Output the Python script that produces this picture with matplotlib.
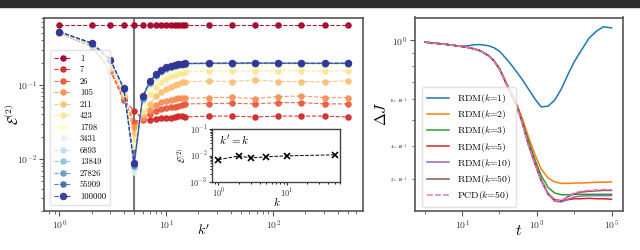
import numpy as np
import matplotlib
matplotlib.use("Agg")
import matplotlib.pyplot as plt
from matplotlib.patches import Rectangle
from matplotlib.ticker import LogLocator, NullFormatter

plt.rcParams.update({
    "font.family": "serif",
    "font.serif": ["cmr10", "DejaVu Serif"],
    "mathtext.fontset": "cm",
    "axes.formatter.use_mathtext": True,
    "axes.unicode_minus": True,
})

# ---------------- left panel data ----------------
kprime = [1, 2, 3, 4, 5, 6, 7, 8, 9, 10, 11, 12, 13, 14, 15, 25, 41, 67, 111, 183, 303, 500]
series_labels = ["1", "7", "26", "105", "211", "423", "1708", "3431", "6893",
                 "13849", "27826", "55909", "100000"]
err_1 = [0.645] * 22
err_7 = [0.50, 0.33, 0.155, 0.062, 0.045, 0.035, 0.034, 0.035, 0.036, 0.036, 0.036,
         0.037, 0.038, 0.038, 0.037, 0.038, 0.038, 0.037, 0.038, 0.038, 0.038, 0.037]
err_26 = [0.50, 0.335, 0.16, 0.065, 0.032, 0.034, 0.041, 0.045, 0.047, 0.049, 0.050,
          0.051, 0.052, 0.054, 0.0555, 0.056, 0.0567, 0.0555, 0.0577, 0.0577, 0.0555, 0.0555]
err_105 = [0.50, 0.34, 0.165, 0.068, 0.027, 0.036, 0.046, 0.053, 0.058, 0.061, 0.063,
           0.064, 0.066, 0.067, 0.066, 0.0675, 0.068, 0.0655, 0.0696, 0.071, 0.0675, 0.0675]
err_211 = [0.50, 0.34, 0.17, 0.072, 0.022, 0.040, 0.056, 0.070, 0.080, 0.088, 0.095,
           0.100, 0.104, 0.108, 0.110, 0.113, 0.111, 0.117, 0.111, 0.111, 0.110, 0.114]
err_423 = [0.505, 0.345, 0.18, 0.078, 0.018, 0.045, 0.075, 0.095, 0.110, 0.122, 0.131,
           0.138, 0.143, 0.147, 0.150, 0.154, 0.155, 0.153, 0.156, 0.155, 0.154, 0.155]
err_1708 = [0.51, 0.35, 0.19, 0.082, 0.015, 0.052, 0.088, 0.112, 0.130, 0.143, 0.153,
            0.161, 0.167, 0.171, 0.174, 0.178, 0.179, 0.178, 0.180, 0.179, 0.179, 0.180]
err_3431 = [0.51, 0.33, 0.21, 0.085, 0.0068, 0.060, 0.100, 0.125, 0.145, 0.160, 0.170,
            0.177, 0.182, 0.186, 0.188, 0.190, 0.191, 0.190, 0.191, 0.190, 0.190, 0.191]
err_6893 = [0.515, 0.35, 0.212, 0.086, 0.0075, 0.063, 0.104, 0.130, 0.149, 0.163, 0.173,
            0.180, 0.185, 0.188, 0.191, 0.193, 0.193, 0.193, 0.194, 0.193, 0.193, 0.193]
err_13849 = [0.515, 0.355, 0.215, 0.087, 0.0080, 0.065, 0.107, 0.134, 0.152, 0.166, 0.175,
             0.182, 0.187, 0.190, 0.192, 0.194, 0.194, 0.195, 0.195, 0.194, 0.194, 0.194]
err_27826 = [0.52, 0.36, 0.217, 0.088, 0.0082, 0.067, 0.109, 0.136, 0.154, 0.168, 0.177,
             0.183, 0.188, 0.191, 0.193, 0.195, 0.195, 0.196, 0.196, 0.195, 0.195, 0.195]
err_55909 = [0.52, 0.365, 0.218, 0.089, 0.0085, 0.068, 0.111, 0.138, 0.156, 0.170, 0.179,
             0.185, 0.189, 0.192, 0.194, 0.196, 0.196, 0.197, 0.196, 0.196, 0.196, 0.196]
err_100000 = [0.52, 0.37, 0.22, 0.090, 0.0088, 0.070, 0.113, 0.140, 0.158, 0.172, 0.180,
              0.186, 0.190, 0.193, 0.195, 0.197, 0.197, 0.198, 0.197, 0.197, 0.196, 0.197]
all_series = [err_1, err_7, err_26, err_105, err_211, err_423, err_1708, err_3431,
              err_6893, err_13849, err_27826, err_55909, err_100000]

# inset data
inset_k = [1, 2, 3, 5, 10, 50]
inset_err = [0.0069, 0.0097, 0.0080, 0.0089, 0.0097, 0.0106]

# ---------------- right panel data ----------------
t = [1, 2, 4, 7, 10, 15, 20, 30, 50, 70, 100, 150, 200, 300, 400, 600, 900, 1300,
     2000, 3000, 4500, 7000, 1e4, 1.5e4, 2.5e4, 4e4, 6e4, 1e5]
dJ_k1 = [0.985, 0.975, 0.965, 0.955, 0.950, 0.955, 0.962, 0.965, 0.955, 0.940, 0.910,
         0.855, 0.815, 0.755, 0.715, 0.655, 0.600, 0.562, 0.565, 0.595, 0.655, 0.750,
         0.830, 0.910, 1.020, 1.085, 1.125, 1.115]
dJ_k2 = [0.985, 0.975, 0.965, 0.955, 0.948, 0.940, 0.930, 0.915, 0.878, 0.840, 0.785,
         0.695, 0.640, 0.568, 0.512, 0.432, 0.370, 0.328, 0.303, 0.293, 0.289, 0.289,
         0.290, 0.290, 0.291, 0.292, 0.292, 0.293]
dJ_k3 = [0.985, 0.975, 0.965, 0.955, 0.948, 0.940, 0.930, 0.915, 0.878, 0.840, 0.783,
         0.692, 0.637, 0.562, 0.500, 0.418, 0.354, 0.310, 0.279, 0.266, 0.262, 0.262,
         0.263, 0.263, 0.263, 0.263, 0.263, 0.263]
dJ_k5 = [0.985, 0.975, 0.965, 0.955, 0.948, 0.940, 0.930, 0.915, 0.878, 0.840, 0.781,
         0.690, 0.635, 0.560, 0.496, 0.406, 0.344, 0.299, 0.265, 0.251, 0.249, 0.251,
         0.253, 0.253, 0.254, 0.253, 0.253, 0.252]
dJ_k10 = [0.985, 0.975, 0.965, 0.955, 0.948, 0.940, 0.930, 0.915, 0.878, 0.840, 0.780,
          0.689, 0.634, 0.558, 0.494, 0.404, 0.342, 0.297, 0.263, 0.248, 0.246, 0.252,
          0.257, 0.259, 0.260, 0.260, 0.260, 0.260]
dJ_k50 = [0.985, 0.975, 0.965, 0.955, 0.948, 0.940, 0.930, 0.915, 0.878, 0.840, 0.780,
          0.688, 0.633, 0.557, 0.493, 0.403, 0.341, 0.297, 0.263, 0.249, 0.248, 0.258,
          0.264, 0.268, 0.270, 0.271, 0.272, 0.272]
dJ_pcd = [0.985, 0.975, 0.965, 0.955, 0.948, 0.940, 0.930, 0.914, 0.876, 0.838, 0.778,
          0.686, 0.631, 0.555, 0.491, 0.401, 0.340, 0.296, 0.263, 0.249, 0.249, 0.259,
          0.266, 0.270, 0.272, 0.273, 0.274, 0.274]
right_labels = [r"RDM($k$=1)", r"RDM($k$=2)", r"RDM($k$=3)", r"RDM($k$=5)",
                r"RDM($k$=10)", r"RDM($k$=50)", r"PCD($k$=50)"]

# ---------------- figure ----------------
fig = plt.figure(figsize=(6.4, 2.5), dpi=100)
fig.patches.append(Rectangle((0, 0.972), 1, 0.028, transform=fig.transFigure,
                             color="#2b2b2b", zorder=-5))

spine_col = "#555555"

ax1 = fig.add_axes([0.069, 0.156, 0.498, 0.774])
cols = plt.cm.RdYlBu(np.linspace(0, 1, 13))
for i, (lab, vals) in enumerate(zip(series_labels, all_series)):
    ms = 4.4 if i == 12 else 3.7
    ax1.plot(kprime, vals, "--o", color=cols[i], lw=0.8, ms=ms, label=lab,
             alpha=0.9, zorder=2 + i * 0.1)
ax1.axvline(5, color="#7a7a7a", lw=1.5, zorder=1)
ax1.set_xscale("log")
ax1.set_yscale("log")
ax1.set_ylim(0.0020, 0.81)
ax1.set_xlim(0.72, 690)
ax1.set_xlabel(r"$k'$", fontsize=10)
ax1.set_ylabel(r"$\mathcal{E}^{(2)}$", fontsize=10)
ax1.xaxis.set_label_coords(0.5, -0.065)
ax1.yaxis.set_label_coords(-0.068, 0.5)
ax1.tick_params(labelsize=7, colors="#333333", pad=1.5)
ax1.tick_params(which="both", color=spine_col)
for s in ax1.spines.values():
    s.set_color(spine_col)
    s.set_linewidth(1.2)
ax1.legend(loc="upper left", bbox_to_anchor=(0.004, 0.855), fontsize=6.2,
           labelspacing=0.36, handlelength=2.0, borderpad=0.5,
           handletextpad=1.0, framealpha=0.8, edgecolor="#dddddd")

axi = fig.add_axes([0.332, 0.273, 0.200, 0.210])
axi.plot(inset_k, inset_err, "--x", color="black", lw=0.7, ms=4, mew=1.2)
axi.set_xscale("log")
axi.set_yscale("log")
axi.set_ylim(1e-3, 1e-1)
axi.set_xlabel(r"$k$", fontsize=8)
axi.set_ylabel(r"$\mathcal{E}^{(2)}$", fontsize=7, labelpad=1)
axi.xaxis.set_label_coords(0.5, -0.26)
axi.tick_params(labelsize=6, length=2.5, pad=1.2, colors="#333333")
axi.tick_params(which="minor", length=1.5)
axi.text(0.05, 0.93, r"$k'=k$", transform=axi.transAxes, ha="left", va="top",
         fontsize=8)
for s in axi.spines.values():
    s.set_color("#444444")
    s.set_linewidth(1.0)

ax2 = fig.add_axes([0.648, 0.156, 0.325, 0.774])
rcols = ["C0", "C1", "C2", "C3", "C4", "C5"]
for c, vals, lab in zip(rcols, [dJ_k1, dJ_k2, dJ_k3, dJ_k5, dJ_k10, dJ_k50], right_labels[:6]):
    ax2.plot(t, vals, color=c, lw=1.1, label=lab)
ax2.plot(t, dJ_pcd, "--", color="C6", lw=1.1, label=right_labels[6])
ax2.set_xscale("log")
ax2.set_yscale("log")
ax2.set_xlim(10 ** -0.27, 10 ** 5.3)
ax2.set_ylim(0.2275, 1.22)
ax2.set_xticks([1e1, 1e3, 1e5])
ax2.xaxis.set_minor_locator(LogLocator(base=10, subs=(1.0,), numticks=20))
ax2.xaxis.set_minor_formatter(NullFormatter())
ax2.set_xlabel(r"$t$", fontsize=11)
ax2.set_ylabel(r"$\Delta J$", fontsize=11)
ax2.xaxis.set_label_coords(0.5, -0.065)
ax2.yaxis.set_label_coords(-0.125, 0.5)
ax2.tick_params(labelsize=7, colors="#333333", pad=1.5)
ax2.tick_params(axis="y", which="minor", labelsize=3.2)
ax2.tick_params(which="both", color=spine_col)
for s in ax2.spines.values():
    s.set_color(spine_col)
    s.set_linewidth(1.2)
ax2.legend(loc="lower left", bbox_to_anchor=(0.01, -0.005), fontsize=7.0,
           labelspacing=0.33, handlelength=2.3, borderpad=0.5, handletextpad=0.8,
           framealpha=0.8, edgecolor="#dddddd")

fig.savefig("out.png", dpi=100)
